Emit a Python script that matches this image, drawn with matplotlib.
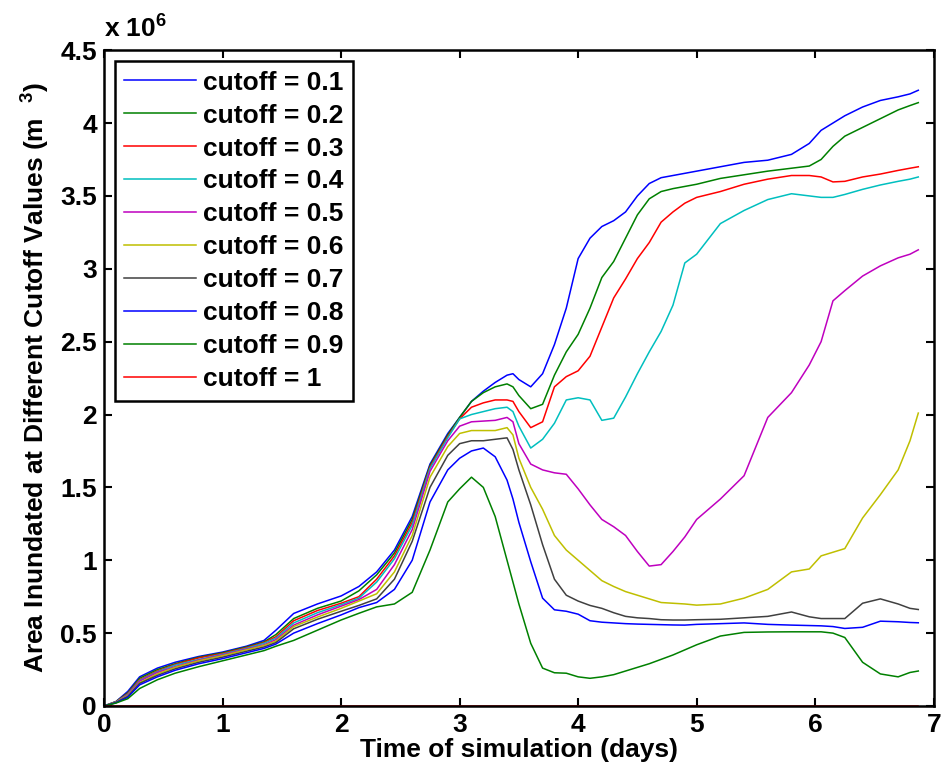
import matplotlib
matplotlib.use("Agg")
import matplotlib.pyplot as plt
from matplotlib.ticker import FuncFormatter

plt.rcParams['font.family'] = ['Liberation Sans', 'DejaVu Sans']
plt.rcParams['font.weight'] = 'bold'
plt.rcParams['axes.labelweight'] = 'bold'
plt.rcParams['mathtext.default'] = 'regular'

# time of simulation (days)
t = [0, 0.1, 0.2, 0.3, 0.45, 0.6, 0.8, 1.0, 1.2, 1.35, 1.45, 1.6, 1.8, 2.0, 2.15,
     2.3, 2.45, 2.6, 2.75, 2.9, 3.0, 3.1, 3.2, 3.3, 3.4, 3.45, 3.5, 3.6, 3.7, 3.8,
     3.9, 4.0, 4.1, 4.2, 4.3, 4.4, 4.5, 4.6, 4.7, 4.8, 4.9, 5.0, 5.2, 5.4, 5.6,
     5.8, 5.95, 6.05, 6.15, 6.25, 6.4, 6.55, 6.7, 6.8, 6.87]

# inundated area, in units of 1e6
c01 = [0, 0.03, 0.10, 0.20, 0.26, 0.30, 0.34, 0.37, 0.41, 0.45, 0.52, 0.635, 0.70, 0.755, 0.82,
       0.92, 1.07, 1.30, 1.66, 1.87, 1.98, 2.09, 2.16, 2.22, 2.27, 2.28, 2.24, 2.19, 2.28, 2.48,
       2.73, 3.07, 3.21, 3.29, 3.33, 3.39, 3.50, 3.585, 3.625, 3.64, 3.655, 3.67, 3.70, 3.73, 3.745,
       3.785, 3.86, 3.95, 4.00, 4.05, 4.11, 4.155, 4.18, 4.20, 4.225]
c02 = [0, 0.03, 0.09, 0.19, 0.25, 0.29, 0.335, 0.365, 0.405, 0.44, 0.49, 0.60, 0.67, 0.72, 0.79,
       0.90, 1.05, 1.28, 1.65, 1.86, 1.98, 2.09, 2.15, 2.19, 2.21, 2.19, 2.13, 2.04, 2.07, 2.27,
       2.43, 2.55, 2.73, 2.94, 3.05, 3.21, 3.37, 3.48, 3.53, 3.55, 3.565, 3.58, 3.62, 3.645, 3.67,
       3.69, 3.705, 3.75, 3.84, 3.91, 3.97, 4.03, 4.09, 4.12, 4.14]
c03 = [0, 0.028, 0.085, 0.18, 0.24, 0.285, 0.33, 0.36, 0.40, 0.435, 0.475, 0.585, 0.655, 0.705, 0.75,
       0.87, 1.03, 1.26, 1.64, 1.85, 1.97, 2.05, 2.08, 2.10, 2.10, 2.09, 2.02, 1.91, 1.95, 2.19,
       2.26, 2.30, 2.40, 2.60, 2.80, 2.93, 3.07, 3.18, 3.32, 3.39, 3.45, 3.49, 3.53, 3.58, 3.615,
       3.64, 3.64, 3.63, 3.596, 3.60, 3.63, 3.65, 3.675, 3.69, 3.70]
c04 = [0, 0.027, 0.08, 0.175, 0.235, 0.28, 0.32, 0.355, 0.395, 0.43, 0.465, 0.57, 0.64, 0.695, 0.74,
       0.85, 1.01, 1.24, 1.63, 1.84, 1.97, 2.00, 2.02, 2.04, 2.05, 2.02, 1.92, 1.77, 1.83, 1.94,
       2.10, 2.115, 2.10, 1.96, 1.975, 2.12, 2.28, 2.43, 2.57, 2.75, 3.04, 3.10, 3.31, 3.40, 3.475,
       3.515, 3.50, 3.49, 3.49, 3.51, 3.545, 3.575, 3.60, 3.615, 3.63]
c05 = [0, 0.026, 0.075, 0.17, 0.23, 0.27, 0.315, 0.35, 0.39, 0.42, 0.455, 0.555, 0.625, 0.685, 0.73,
       0.80, 0.97, 1.21, 1.61, 1.82, 1.92, 1.95, 1.955, 1.96, 1.98, 1.95, 1.80, 1.66, 1.62, 1.60,
       1.59, 1.49, 1.38, 1.28, 1.23, 1.17, 1.06, 0.96, 0.97, 1.06, 1.16, 1.28, 1.42, 1.58, 1.98,
       2.15, 2.34, 2.50, 2.78, 2.85, 2.95, 3.02, 3.075, 3.10, 3.13]
c06 = [0, 0.025, 0.07, 0.16, 0.22, 0.265, 0.31, 0.345, 0.385, 0.415, 0.445, 0.545, 0.61, 0.67, 0.72,
       0.77, 0.92, 1.17, 1.57, 1.78, 1.87, 1.89, 1.89, 1.89, 1.91, 1.86, 1.70, 1.50, 1.35, 1.17,
       1.07, 1.00, 0.93, 0.86, 0.82, 0.785, 0.76, 0.735, 0.71, 0.705, 0.70, 0.692, 0.70, 0.74, 0.80,
       0.92, 0.94, 1.03, 1.055, 1.08, 1.29, 1.45, 1.62, 1.82, 2.01]
c07 = [0, 0.024, 0.065, 0.155, 0.21, 0.255, 0.30, 0.335, 0.375, 0.405, 0.435, 0.53, 0.595, 0.65, 0.69,
       0.735, 0.87, 1.13, 1.50, 1.72, 1.80, 1.82, 1.82, 1.83, 1.84, 1.76, 1.62, 1.38, 1.107, 0.87,
       0.76, 0.72, 0.69, 0.67, 0.64, 0.615, 0.605, 0.60, 0.592, 0.59, 0.59, 0.592, 0.595, 0.605, 0.615,
       0.645, 0.612, 0.60, 0.60, 0.60, 0.705, 0.735, 0.70, 0.67, 0.662]
c08 = [0, 0.022, 0.06, 0.145, 0.20, 0.245, 0.29, 0.325, 0.365, 0.395, 0.425, 0.50, 0.565, 0.625, 0.675,
       0.71, 0.80, 1.00, 1.40, 1.62, 1.70, 1.75, 1.77, 1.71, 1.55, 1.42, 1.26, 0.99, 0.74, 0.66,
       0.65, 0.63, 0.585, 0.575, 0.57, 0.565, 0.562, 0.56, 0.558, 0.556, 0.555, 0.56, 0.565, 0.57, 0.56,
       0.555, 0.552, 0.55, 0.545, 0.532, 0.54, 0.582, 0.578, 0.573, 0.571]
c09 = [0, 0.02, 0.05, 0.12, 0.18, 0.225, 0.27, 0.31, 0.35, 0.38, 0.41, 0.45, 0.52, 0.59, 0.636,
       0.68, 0.70, 0.78, 1.07, 1.40, 1.49, 1.57, 1.50, 1.30, 1.00, 0.85, 0.70, 0.43, 0.26, 0.228,
       0.225, 0.20, 0.19, 0.20, 0.215, 0.24, 0.265, 0.29, 0.32, 0.35, 0.385, 0.42, 0.48, 0.505, 0.508,
       0.509, 0.509, 0.509, 0.50, 0.47, 0.30, 0.22, 0.20, 0.23, 0.24]
c10 = [0] * len(t)

series = [c01, c02, c03, c04, c05, c06, c07, c08, c09, c10]
labels = ['cutoff = 0.1', 'cutoff = 0.2', 'cutoff = 0.3', 'cutoff = 0.4', 'cutoff = 0.5',
          'cutoff = 0.6', 'cutoff = 0.7', 'cutoff = 0.8', 'cutoff = 0.9', 'cutoff = 1']
colors = [(0, 0, 1), (0, 0.5, 0), (1, 0, 0), (0, 0.75, 0.75), (0.75, 0, 0.75),
          (0.75, 0.75, 0), (0.25, 0.25, 0.25), (0, 0, 1), (0, 0.5, 0), (1, 0, 0)]

fig = plt.figure(figsize=(9.46, 7.84), dpi=100)
ax = fig.add_axes([0.110, 0.0995, 0.877, 0.8365])

for vals, lab, col in zip(series, labels, colors):
    ax.plot(t, vals, color=col, lw=1.1, label=lab)

ax.set_xlim(0, 7)
ax.set_ylim(0, 4.5)
ax.set_xticks(range(0, 8))
ax.set_yticks([0, 0.5, 1, 1.5, 2, 2.5, 3, 3.5, 4, 4.5])
ax.yaxis.set_major_formatter(FuncFormatter(lambda v, p: '%g' % v))
ax.tick_params(direction='in', length=6, width=1.5, top=True, right=True,
               labelsize=19, pad=5)
for s in ax.spines.values():
    s.set_linewidth(1.8)

ax.set_xlabel('Time of simulation (days)', fontsize=19, labelpad=1)
ax.set_ylabel('Area Inundated at Different Cutoff Values (m  $^{3}$)', fontsize=19, labelpad=6)
ax.text(0.0, 1.012, 'x 10$^{6}$', transform=ax.transAxes, fontsize=19,
        ha='left', va='bottom')

leg = ax.legend(loc='upper left', bbox_to_anchor=(0.0133, 0.983), borderaxespad=0,
                fontsize=19, handlelength=2.7, labelspacing=0.34, fancybox=False,
                edgecolor='black', framealpha=1, borderpad=0.35, handletextpad=0.3)
leg.get_frame().set_linewidth(1.8)

fig.savefig('out.png', dpi=100)
